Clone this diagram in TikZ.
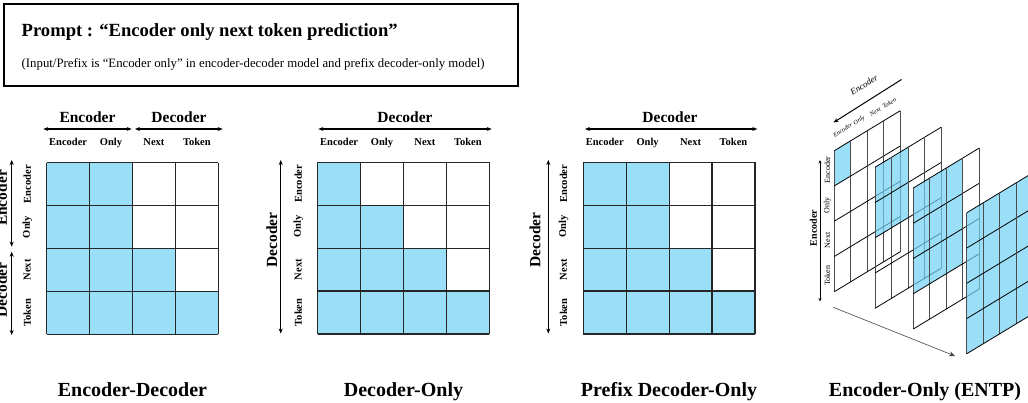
\documentclass[tikz,border=0pt]{standalone}
\usepackage{fontspec}
\setmainfont{Liberation Serif}
\usetikzlibrary{arrows.meta}
\definecolor{cellblue}{RGB}{155,222,248}
\definecolor{panelblue}{RGB}{112,208,245}
\newcommand{\attgrid}[3]{%
  \begin{scope}[shift={(#1,#2)}, x=42.9pt, y=-42.9pt]
    \ifnum#3=1
      \fill[cellblue] (0,0) -- (2,0) -- (2,2) -- (3,2) -- (3,3) -- (4,3) -- (4,4) -- (0,4) -- cycle;
    \else
      \fill[cellblue] (0,0) -- (1,0) -- (1,1) -- (2,1) -- (2,2) -- (3,2) -- (3,3) -- (4,3) -- (4,4) -- (0,4) -- cycle;
    \fi
    \foreach \k in {0,...,4}{\draw[gridline] (\k,0) -- (\k,4); \draw[gridline] (0,\k) -- (4,\k);}
  \end{scope}}
\newcommand{\skewpanel}[3]{%
  \begin{scope}[shift={(#1,#2)}, x={(16.5pt,10pt)}, y={(0pt,-35.25pt)}]
    \fill[panelblue, fill opacity=0.7] (0,0) -- (#3,0) -- (#3,#3) -- (0,#3) -- cycle;
    \foreach \k in {0,...,4}{\draw[pvline] (\k,0) -- (\k,4); \draw[phline] (0,\k) -- (4,\k);}
  \end{scope}}
\begin{document}
\begin{tikzpicture}[x=1pt,y=-1pt,
  gridline/.style={line width=1.2pt, black!85},
  pvline/.style={line width=0.7pt, black!70},
  phline/.style={line width=0.8pt, black},
  dimarrow/.style={line width=1.1pt, {Stealth[length=5pt,width=4pt]}-{Stealth[length=5pt,width=4pt]}},
  hdr/.style={font=\fontsize{15.5}{18}\selectfont\bfseries, anchor=base},
  sidehdr/.style={font=\fontsize{15.5}{18}\selectfont\bfseries, rotate=90},
  collab/.style={font=\fontsize{10.5}{12}\selectfont\bfseries, anchor=base},
  rowlab/.style={font=\fontsize{10.5}{12}\selectfont\bfseries, rotate=90},
  caption/.style={font=\fontsize{20}{24}\selectfont\bfseries, anchor=base},
  itlab/.style={font=\fontsize{6.3}{7}\selectfont\itshape, rotate=32, inner sep=0.5pt},
]
\useasboundingbox (0,0) rectangle (1028,402);

% prompt box
\draw[line width=1.2pt] (4,4) rectangle (518,86);
\node[font=\fontsize{18.6}{21}\selectfont\bfseries, anchor=base west, inner sep=0] (ttl) at (21.5,36) {Prompt : “Encoder only next token prediction”};
\node[font=\fontsize{12.8}{15}\selectfont, anchor=base west, inner sep=0] (sub) at (21.5,67.5) {(Input/Prefix is “Encoder only” in encoder-decoder model and prefix decoder-only model)};

% ---------- grid 1: encoder-decoder
\attgrid{46.7}{162.7}{1}
\coordinate (a1l) at (43.3,129); \coordinate (a1r) at (131.7,129);
\coordinate (a2l) at (135,129);  \coordinate (a2r) at (222.7,129);
\draw[dimarrow] (a1l) -- (a1r);
\draw[dimarrow] (a2l) -- (a2r);
\node[hdr] (g1enc) at (87.5,122.3) {Encoder};
\node[hdr] (g1dec) at (179,122.3) {Decoder};
\coordinate (v1t) at (11.7,160); \coordinate (v1b) at (11.7,246.7);
\coordinate (v2t) at (11.7,251.7); \coordinate (v2b) at (11.7,335);
\draw[dimarrow] (v1t) -- (v1b);
\draw[dimarrow] (v2t) -- (v2b);
\node[sidehdr] (g1senc) at (1.5,198) {Encoder};
\node[sidehdr] (g1sdec) at (1.5,290) {Decoder};
\foreach \w [count=\k from 0] in {Encoder,Only,Next,Token}{
  \node[collab] (g1c\k) at (68.15+42.9*\k,145.5) {\w};
  \node[rowlab] (g1r\k) at (27.3,184.15+42.9*\k) {\w};
}
\node[caption] (cap1) at (132.5,396.5) {Encoder-Decoder};

% ---------- grid 2: decoder-only
\attgrid{317.7}{162.3}{0}
\coordinate (b1l) at (318.3,129); \coordinate (b1r) at (491.7,129);
\draw[dimarrow] (b1l) -- (b1r);
\node[hdr] (g2dec) at (405,122.3) {Decoder};
\coordinate (w1t) at (280.7,160); \coordinate (w1b) at (280.7,333.5);
\draw[dimarrow] (w1t) -- (w1b);
\node[sidehdr] (g2sdec) at (271.7,240) {Decoder};
\foreach \w [count=\k from 0] in {Encoder,Only,Next,Token}{
  \node[collab] (g2c\k) at (339.15+42.9*\k,145.5) {\w};
  \node[rowlab] (g2r\k) at (298.3,183.75+42.9*\k) {\w};
}
\node[caption] (cap2) at (403.5,396.5) {Decoder-Only};

% ---------- grid 3: prefix decoder-only
\attgrid{583.3}{162.3}{1}
\coordinate (c1l) at (585,129); \coordinate (c1r) at (757.3,129);
\draw[dimarrow] (c1l) -- (c1r);
\node[hdr] (g3dec) at (670,122.3) {Decoder};
\coordinate (x1t) at (548.3,160); \coordinate (x1b) at (548.3,333.5);
\draw[dimarrow] (x1t) -- (x1b);
\node[sidehdr] (g3sdec) at (535,240) {Decoder};
\foreach \w [count=\k from 0] in {Encoder,Only,Next,Token}{
  \node[collab] (g3c\k) at (604.75+42.9*\k,145.5) {\w};
  \node[rowlab] (g3r\k) at (563.5,183.75+42.9*\k) {\w};
}
\node[caption] (cap3) at (669,396.5) {Prefix Decoder-Only};

% ---------- 3D encoder-only panels
\skewpanel{834.3}{150.7}{1}
\skewpanel{875}{167.3}{2}
\skewpanel{913.3}{188}{3}
\skewpanel{966.7}{212.8}{4}
\coordinate (e1a) at (901.5,79.5); \coordinate (e1b) at (833.5,122.5);
\draw[line width=1pt, -{Stealth[length=5pt,width=4pt]}] (e1a) -- (e1b);
\node[font=\fontsize{9}{10}\selectfont\itshape, rotate=32, inner sep=0.5pt] (ptop) at (864,85) {Encoder};
\node[itlab] (pc0) at (842.7,130) {Encoder};
\node[itlab] (pc1) at (859.3,120.5) {Only};
\node[itlab] (pc2) at (875.3,111.5) {Next};
\node[itlab] (pc3) at (889.3,103) {Token};
\coordinate (e2t) at (820,160); \coordinate (e2b) at (820,301.5);
\draw[line width=0.7pt, {Stealth[length=3.5pt,width=3pt]}-{Stealth[length=3.5pt,width=3pt]}] (e2t) -- (e2b);
\node[font=\fontsize{10}{12}\selectfont\bfseries, rotate=90] (pside) at (813.5,228) {Encoder};
\foreach \w [count=\k from 0] in {Encoder,Only,Next,Token}{
  \node[font=\fontsize{8}{9}\selectfont, rotate=90] (pr\k) at (827.5,170+35.25*\k) {\w};
}
\coordinate (e3a) at (833.3,307.3); \coordinate (e3b) at (955,356);
\draw[line width=0.6pt, black!75, -{Stealth[length=6pt,width=5pt]}] (e3a) -- (e3b);
\node[caption] (cap4) at (925,396.5) {Encoder-Only (ENTP)};
\end{tikzpicture}
\end{document}
